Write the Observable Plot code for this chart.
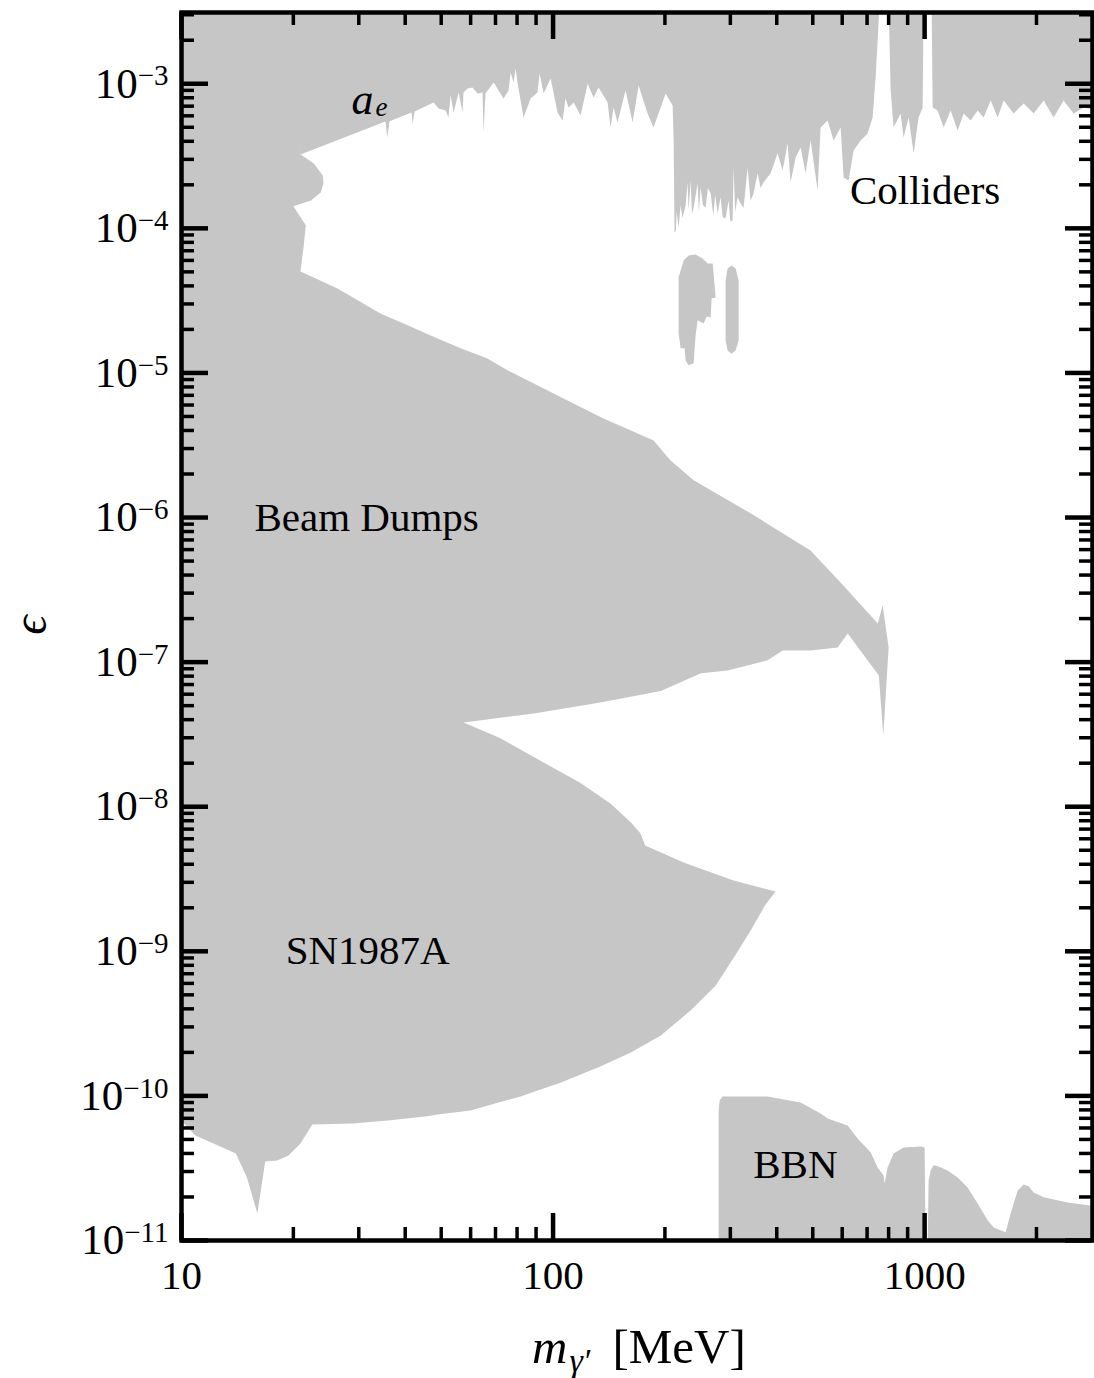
<!DOCTYPE html>
<html><head><meta charset="utf-8">
<script src="https://cdn.jsdelivr.net/npm/d3@7"></script>
<script src="https://cdn.jsdelivr.net/npm/@observablehq/plot@0.6"></script>
<style>
body{margin:0;background:#fff;}
#chart{width:1094px;height:1378px;}
</style></head><body><div id="chart"></div>
<script>
// ---------- data: excluded regions, vertices as [m (MeV), epsilon] ----------
const EPS_TOP = 3.6e-3;   // beyond top of frame (clipped)
const EPS_BOT = 9e-12;    // beyond bottom of frame (clipped)

const beamDumpsSN = [
  [9.9, EPS_TOP], [22.5, EPS_TOP], [20.9, 3.25e-4], [22.7, 2.81e-4], [24.0, 2.32e-4], [24.1, 2.04e-4],
  [23.7, 1.77e-4], [22.3, 1.56e-4], [20.0, 1.42e-4], [21.6, 1.05e-4], [21.3, 7.38e-5], [20.9, 5.03e-5],
  [26.3, 3.84e-5], [34.3, 2.58e-5], [39.6, 2.20e-5], [48.9, 1.73e-5], [56.4, 1.48e-5], [66.6, 1.26e-5],
  [75.5, 1.04e-5], [106.7, 6.66e-6], [136.7, 4.85e-6], [186.5, 3.41e-6], [207, 2.48e-6], [239, 1.81e-6],
  [340, 1.07e-6], [493, 5.92e-7], [594, 3.56e-7], [748, 1.85e-7], [771, 2.47e-7], [800, 1.26e-7],
  [774, 3.11e-8], [753, 8.09e-8], [621, 1.58e-7], [583, 1.26e-7], [493, 1.205e-7], [415, 1.205e-7],
  [378, 1.03e-7], [295, 8.76e-8], [250, 8.36e-8], [195, 6.32e-8], [134, 5.26e-8], [88.8, 4.42e-8],
  [57.4, 3.83e-8], [72.2, 2.97e-8], [94.3, 2.02e-8], [118, 1.47e-8], [143, 1.05e-8], [162, 7.79e-9],
  [172, 6.54e-9], [177, 5.39e-9], [224.5, 4.12e-9], [306, 3.09e-9], [397, 2.59e-9], [372, 2.08e-9],
  [340, 1.39e-9], [309, 9.36e-10], [274, 5.80e-10], [234.5, 3.90e-10], [195, 2.62e-10], [162, 2.0e-10],
  [134, 1.60e-10], [105, 1.24e-10], [81.7, 9.92e-11], [59.9, 7.93e-11], [48.9, 7.44e-11], [45.9, 7.23e-11],
  [35.9, 6.77e-11], [29.0, 6.45e-11], [22.5, 6.35e-11], [20.9, 4.69e-11], [19.4, 3.87e-11], [18.1, 3.58e-11],
  [16.8, 3.52e-11], [16.0, 1.54e-11], [15.0, 2.73e-11], [14.0, 4.0e-11], [12.2, 4.69e-11], [10.9, 5.33e-11],
  [10.1, 6.56e-11], [9.9, 6.6e-11]
];

const aeColliders = [
  [20.3, EPS_TOP], [20.9, 3.24e-4], [35.4, 5.48e-4], [35.8, 4.25e-4], [36.3, 5.5e-4], [41.6, 6.33e-4],
  [41.9, 5.31e-4], [42.4, 6.43e-4], [47.7, 7.42e-4], [49.2, 6.75e-4], [51.4, 6.54e-4], [52.3, 5.85e-4],
  [53.0, 8.30e-4], [54.0, 6.33e-4], [55.7, 8.71e-4], [57.1, 6.33e-4], [57.4, 8.71e-4], [58.9, 9.28e-4],
  [60.7, 9.43e-4], [62.6, 8.57e-4], [64.6, 8.71e-4], [65.0, 4.60e-4], [65.8, 8.57e-4], [69.2, 1.02e-3],
  [73.6, 7.91e-4], [75.9, 8.99e-4], [76.9, 1.197e-3], [78.3, 1.02e-3], [79.3, 1.276e-3], [80.2, 1.02e-3],
  [83.3, 5.85e-4], [87.0, 7.91e-4], [90.8, 8.71e-4], [92.0, 1.178e-3], [94.3, 8.57e-4], [98.5, 1.088e-3],
  [102.8, 6.33e-4], [106.1, 5.57e-4], [108, 7.91e-4], [110.1, 6.86e-4], [113.6, 7.42e-4], [118.6, 6.03e-4],
  [123.9, 1.0e-3], [128.5, 8.04e-4], [132.6, 9.43e-4], [140.2, 7.42e-4], [142.8, 4.99e-4], [145.5, 6.86e-4],
  [149.1, 5.40e-4], [156.7, 8.99e-4], [163.7, 5.40e-4], [169.9, 9.73e-4], [179.6, 6.23e-4], [186.4, 4.99e-4],
  [200.9, 8.57e-4], [209.8, 7.08e-4], [211.1, 4.05e-4], [212.3, 9.37e-5], [214, 9.6e-5], [215, 1.3e-4],
  [217.7, 1.01e-4], [220.4, 1.44e-4], [223, 1.18e-4], [227.4, 1.44e-4], [230.1, 2.08e-4], [231.6, 1.33e-4],
  [234.5, 2.14e-4], [236.5, 1.25e-4], [238.9, 1.39e-4], [244.9, 2.04e-4], [247, 1.3e-4], [249.5, 1.92e-4],
  [253, 1.45e-4], [257.4, 1.39e-4], [261, 1.9e-4], [265.5, 1.74e-4], [270, 1.22e-4], [273, 1.7e-4],
  [277.2, 1.27e-4], [282.4, 1.64e-4], [286, 1.2e-4], [291.3, 1.17e-4], [296.8, 1.56e-4], [300, 1.12e-4],
  [304.2, 1.13e-4], [306.1, 2.64e-4], [309, 1.3e-4], [313.8, 1.64e-4], [319, 1.5e-4], [325.7, 1.39e-4],
  [333.9, 2.64e-4], [340, 1.55e-4], [346.5, 1.74e-4], [355.2, 2.40e-4], [362, 1.9e-4], [368.7, 2.08e-4],
  [385, 2.40e-4], [402, 3.30e-4], [414.7, 2.51e-4], [427.8, 3.86e-4], [435.8, 2.08e-4], [449.6, 3.09e-4],
  [463.7, 3.63e-4], [478.3, 2.40e-4], [493.4, 4.05e-4], [515.2, 1.83e-4], [524.8, 4.99e-4], [548.2, 5.57e-4],
  [568.9, 4.05e-4], [594.1, 4.99e-4], [605.3, 2.25e-4], [624.3, 2.14e-4], [644, 3.46e-4], [672.5, 4.05e-4],
  [702.4, 4.53e-4], [724.4, 5.85e-4], [738, 1.106e-3],
  [756.6, EPS_TOP], [800, EPS_TOP], [810, 9.0e-4], [825, 4.99e-4], [861.6, 6.23e-4], [877.8, 4.25e-4],
  [905.7, 5.85e-4], [934.1, 3.30e-4], [963.4, 5.85e-4], [987.6, 6.86e-4], [994, EPS_TOP], [1044, EPS_TOP],
  [1051, 6.86e-4], [1084, 6.54e-4], [1125, 4.99e-4], [1175, 6.54e-4], [1227, 4.75e-4], [1274, 6.23e-4],
  [1330, 5.57e-4], [1389, 6.54e-4], [1442, 5.85e-4], [1506, 7.66e-4], [1572, 5.85e-4], [1632, 7.66e-4],
  [1736, 6.23e-4], [1847, 7.31e-4], [1966, 6.23e-4], [2091, 7.66e-4], [2225, 5.85e-4], [2366, 7.66e-4],
  [2518, 6.23e-4], [2679, 6.86e-4], [2900, 6.54e-4], [2900, EPS_TOP]
];

const collidersIsland1 = [
  [217.7, 4.57e-5], [224.6, 6.0e-5], [231.6, 6.5e-5], [241.9, 6.6e-5], [252.6, 6.19e-5], [260.6, 5.72e-5],
  [268.8, 5.72e-5], [270.4, 4.88e-5], [273.8, 3.33e-5], [267.1, 3.27e-5], [265.5, 2.42e-5], [259, 2.46e-5],
  [254.2, 2.2e-5], [244.9, 2.31e-5], [241.9, 1.82e-5], [238.9, 1.16e-5], [231.6, 1.13e-5], [227.4, 1.22e-5],
  [226, 1.48e-5], [220.4, 1.48e-5], [217.7, 1.88e-5]
];
const collidersIsland2 = [
  [291.3, 4.36e-5], [294.9, 5.28e-5], [302.3, 5.54e-5], [310, 5.28e-5], [315.8, 4.36e-5], [315.8, 1.68e-5],
  [310, 1.43e-5], [302.3, 1.36e-5], [294.9, 1.43e-5], [291.3, 1.68e-5]
];
const bbnLow = [
  [279, EPS_BOT], [279, 7.94e-11], [280.7, 9.31e-11], [286, 9.92e-11], [378, 9.92e-11], [463.7, 9.02e-11],
  [524.8, 7.57e-11], [548.2, 6.99e-11], [620.5, 6.25e-11], [660, 5.08e-11], [715.5, 4.07e-11], [747.3, 3.2e-11],
  [775.6, 2.82e-11], [780, 2.48e-11], [795, 3.2e-11], [825, 4.0e-11], [877.8, 4.4e-11], [975.4, 4.47e-11],
  [1000, 4.4e-11], [1006, EPS_BOT]
];
const bbnHigh = [
  [1019, EPS_BOT], [1025, 2.6e-11], [1038, 3.05e-11], [1057, 3.31e-11], [1091, 3.25e-11], [1153, 3.05e-11],
  [1227, 2.73e-11], [1305, 2.33e-11], [1389, 1.80e-11], [1478, 1.38e-11], [1534, 1.23e-11], [1652, 1.14e-11],
  [1704, 1.54e-11], [1780, 2.22e-11], [1847, 2.44e-11], [1905, 2.37e-11], [1966, 2.15e-11], [2091, 1.99e-11],
  [2426, 1.83e-11], [2900, 1.72e-11], [2900, EPS_BOT]
];

const regionLabels = [
  {text: "Colliders", m: 1003, eps: 1.83e-4},
  {text: "Beam Dumps", m: 31.5, eps: 1.0e-6},
  {text: "SN1987A", m: 31.7, eps: 1.0e-9},
  {text: "BBN", m: 449, eps: 3.31e-11}
];
const aeLabel = [{m: 30.7, eps: 7.73e-4}];

const xMajorTicks = [10, 100, 1000];
const xMinorTicks = [20, 30, 40, 50, 60, 70, 80, 90, 200, 300, 400, 500, 600, 700, 800, 900, 2000];
const yMajorTicks = [1e-11, 1e-10, 1e-9, 1e-8, 1e-7, 1e-6, 1e-5, 1e-4, 1e-3];
const yMinorMantissas = [2, 3, 4, 5, 6, 7, 8, 9];

// ---------- build ----------
const regions = [
  ["bd", beamDumpsSN], ["col", aeColliders], ["i1", collidersIsland1], ["i2", collidersIsland2],
  ["b1", bbnLow], ["b2", bbnHigh]
].flatMap(([id, poly]) => poly.map(([m, eps]) => ({id, m, eps})));

const yMinorTicks = yMajorTicks.flatMap(d => yMinorMantissas.map(k => k * d)).filter(v => v < 3.1e-3);

const W = 1094, H = 1378, MT = 12, MB = 138, ML = 181, MR = 2;
const PH = H - MT - MB, PW = W - ML - MR;
const MAJ = 27, MIN = 13;
const SERIF = "'Liberation Serif', 'Times New Roman', serif";
const GRAY = "#c6c6c6";

const chart = Plot.plot({
  width: W, height: H,
  marginTop: MT, marginBottom: MB, marginLeft: ML, marginRight: MR,
  x: {type: "log", domain: [10, 2830], label: null},
  y: {type: "log", domain: [1e-11, 3.11e-3], label: null},
  style: {fontFamily: SERIF, background: "white", color: "black"},
  marks: [
    Plot.line(regions, {x: "m", y: "eps", z: "id", fill: GRAY, stroke: "none", curve: "linear", clip: true}),
    Plot.text(regionLabels, {x: "m", y: "eps", text: "text", fontSize: 41, fill: "black"}),
    Plot.text(aeLabel, {x: "m", y: "eps", text: () => "a", fontSize: 44, fontStyle: "italic", fill: "black"}),
    Plot.text(aeLabel, {x: "m", y: "eps", text: () => "e", fontSize: 27, fontStyle: "italic", fill: "black", dx: 19, dy: 7}),
    // inward ticks on all four sides
    Plot.tickX(xMajorTicks, {x: d => d, insetTop: PH - MAJ, strokeWidth: 4.5, stroke: "black"}),
    Plot.tickX(xMinorTicks, {x: d => d, insetTop: PH - MIN, strokeWidth: 3.5, stroke: "black"}),
    Plot.tickX(xMajorTicks, {x: d => d, insetBottom: PH - MAJ, strokeWidth: 4.5, stroke: "black"}),
    Plot.tickX(xMinorTicks, {x: d => d, insetBottom: PH - MIN, strokeWidth: 3.5, stroke: "black"}),
    Plot.tickY(yMajorTicks, {y: d => d, insetRight: PW - MAJ, strokeWidth: 4.5, stroke: "black"}),
    Plot.tickY(yMinorTicks, {y: d => d, insetRight: PW - MIN, strokeWidth: 3.5, stroke: "black"}),
    Plot.tickY(yMajorTicks, {y: d => d, insetLeft: PW - MAJ, strokeWidth: 4.5, stroke: "black"}),
    Plot.tickY(yMinorTicks, {y: d => d, insetLeft: PW - MIN, strokeWidth: 3.5, stroke: "black"}),
    Plot.axisX(xMajorTicks, {anchor: "bottom", tickSize: 0, tickPadding: 19, fontSize: 41, label: null,
      tickFormat: d => String(d)}),
    Plot.axisY(yMajorTicks, {anchor: "left", tickSize: 0, tickPadding: 13, fontSize: 43, label: null,
      tickFormat: d => "10^" + Math.round(Math.log10(d))}),
    Plot.frame({stroke: "black", strokeWidth: 4.5})
  ]
});

// superscript exponents on y tick labels
d3.select(chart).selectAll('g[aria-label="y-axis tick label"] text').each(function() {
  const t = d3.select(this);
  const s = t.text();
  const [base, exp] = s.split("^");
  t.text(null);
  t.append("tspan").text(base);
  t.append("tspan").attr("dy", "-0.42em").attr("font-size", 29).text(exp.replace("-", "\u2212"));
});

const svg = d3.select(chart);
// x-axis title
const xt = svg.append("text").attr("x", 532).attr("y", 1363).attr("font-size", 49)
  .attr("text-anchor", "start").attr("font-family", SERIF).attr("fill", "black");
xt.append("tspan").attr("font-style", "italic").text("m");
xt.append("tspan").attr("font-style", "italic").attr("font-size", 34).attr("dy", 9).attr("dx", 2).text("\u03B3\u2032");
xt.append("tspan").attr("dy", -9).attr("dx", 10).text(" [MeV]");
// y-axis title
svg.append("text").attr("transform", "translate(46,625) rotate(-90)").attr("text-anchor", "middle")
  .attr("font-size", 48).attr("font-family", SERIF).attr("font-style", "italic").attr("fill", "black")
  .text("\u03F5");

document.getElementById("chart").appendChild(chart);
</script></body></html>
